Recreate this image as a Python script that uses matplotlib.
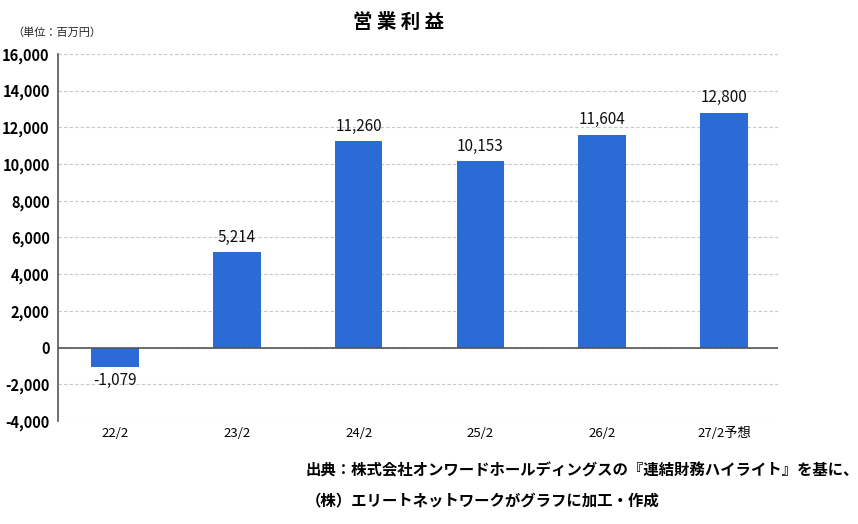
import matplotlib
matplotlib.use("Agg")
import matplotlib.pyplot as plt
from matplotlib.ticker import FuncFormatter

plt.rcParams['font.family'] = ['Noto Sans CJK JP', 'DejaVu Sans']

periods = ["22/2", "23/2", "24/2", "25/2", "26/2", "27/2予想"]
op_profit = [-1079, 5214, 11260, 10153, 11604, 12800]
yticks = list(range(-4000, 16001, 2000))

fig = plt.figure(figsize=(8.58, 5.24), dpi=100)
# axes box: x 58..778 px, y 54..421 px
ax = fig.add_axes([58 / 858, 1 - 421 / 524, 720 / 858, 367 / 524])

x = list(range(len(periods)))
ax.bar(x, op_profit, width=0.39, color="#2a6bd6", zorder=3)

for xi, v in zip(x, op_profit):
    if v >= 0:
        ax.text(xi, v + 350, f"{v:,}", ha="center", va="bottom", fontsize=11, color="#111111")
    else:
        ax.text(xi, v - 250, f"{v:,}", ha="center", va="top", fontsize=11, color="#111111")

ax.set_xlim(-0.468, 5.443)
ax.set_ylim(-4000, 16000)
ax.set_yticks(yticks)
ax.yaxis.set_major_formatter(FuncFormatter(lambda v, p: f"{int(v):,}"))
ax.set_xticks(x)
ax.set_xticklabels(periods, fontsize=9.5)
ax.tick_params(axis="y", labelsize=10.5, length=0, pad=6)
ax.tick_params(axis="x", length=0, pad=4)
for lab in ax.get_yticklabels():
    lab.set_fontweight("bold")

ax.grid(axis="y", linestyle=(0, (3, 2)), color="#c8c8c8", linewidth=0.8, zorder=0)
ax.axhline(0, color="#555555", linewidth=1.2, zorder=4)
for s in ["top", "right", "bottom"]:
    ax.spines[s].set_visible(False)
ax.spines["left"].set_color("#555555")
ax.spines["left"].set_linewidth(1.2)

fig.text(0.464, 0.958, "営 業 利 益", ha="center", va="center", fontsize=14, fontweight="bold")
fig.text(0.014, 0.937, "（単位：百万円）", ha="left", va="center", fontsize=8, color="#222222")
fig.text(0.356, 0.103, "出典：株式会社オンワードホールディングスの『連結財務ハイライト』を基に、",
         ha="left", va="center", fontsize=11.1, fontweight="bold")
fig.text(0.356, 0.045, "（株）エリートネットワークがグラフに加工・作成",
         ha="left", va="center", fontsize=11.1, fontweight="bold")

fig.savefig("out.png", dpi=100)
